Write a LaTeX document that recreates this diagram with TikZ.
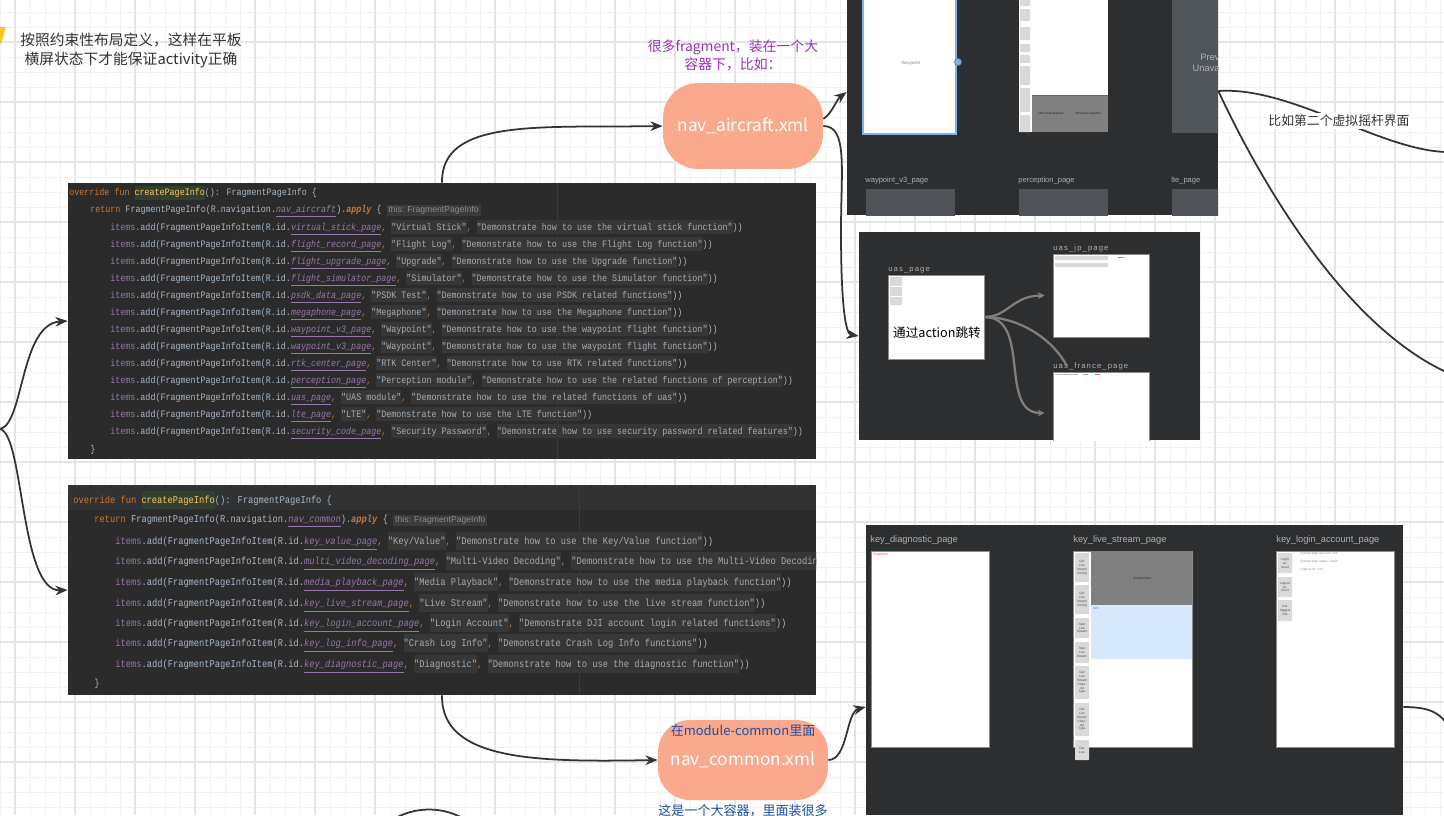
\documentclass[tikz,border=0pt]{standalone}
\usepackage{fontspec}
\setmainfont{Noto Sans CJK SC}
\setsansfont{Liberation Sans}
\newfontfamily\codefont[FakeStretch=0.85]{Liberation Mono}
\usetikzlibrary{positioning,arrows.meta,fit,calc}
\definecolor{ink}{HTML}{333333}
\definecolor{gridmin}{HTML}{F1F1F1}
\definecolor{gridmaj}{HTML}{E5E5E5}
\definecolor{salmon}{HTML}{FBA98C}
\definecolor{codebg}{HTML}{2B2B2B}
\definecolor{hdrbg}{HTML}{313233}
\definecolor{codefg}{HTML}{A9B7C6}
\definecolor{kwcol}{HTML}{CC7832}
\definecolor{fncol}{HTML}{FFC66D}
\definecolor{fnbg}{HTML}{33402F}
\definecolor{idcol}{HTML}{9876AA}
\definecolor{strbg}{HTML}{373737}
\definecolor{strfg}{HTML}{A5ADB4}
\definecolor{hintbg}{HTML}{3B3B3B}
\definecolor{hintfg}{HTML}{8C8C8C}
\definecolor{panelbg}{HTML}{2D2E30}
\definecolor{plabel}{HTML}{B0B0B0}
\definecolor{pgray}{HTML}{4F5357}
\definecolor{prevgray}{HTML}{50555A}
\definecolor{purp}{HTML}{9B30B8}
\definecolor{navblue}{HTML}{1F4E9E}
\definecolor{selblue}{HTML}{7FB2E5}
\definecolor{flowgray}{HTML}{7E7E7E}
\definecolor{lightblue}{HTML}{D6E8FC}
\definecolor{stickyyel}{HTML}{FFC425}
\tikzset{
  panel/.style={fill=panelbg,draw=none,inner sep=0pt},
  codebox/.style={fill=codebg,draw=none,inner sep=0pt},
  codeln/.style={anchor=west,inner sep=0pt,text=codefg,font=\codefont\fontsize{5.6}{7.8}\selectfont},
  codelnb/.style={codeln,font=\codefont\fontsize{5.85}{10}\selectfont},
  navnode/.style={fill=salmon,draw=none,rounded corners=0.7cm,inner sep=0pt,text=white,text height=7pt,text depth=1pt,font=\fontsize{9.8}{12}\selectfont},
  pagebox/.style={fill=white,draw=black!45,line width=0.4pt,inner sep=0pt},
  pglabel/.style={anchor=west,inner sep=0pt,text=plabel,font=\sffamily\fontsize{4.3}{5}\selectfont},
  uaslbl/.style={pglabel,font=\sffamily\fontsize{4.4}{5}\selectfont\addfontfeature{LetterSpace=14}},
  tinytxt/.style={inner sep=0pt,font=\sffamily\fontsize{1.8}{2.2}\selectfont,text=black!70},
  btn/.style={fill=black!15,draw=none,rounded corners=0.4pt},
  note/.style={align=center,text=ink,inner sep=0pt,font=\fontsize{8.4}{10.8}\selectfont},
  conn/.style={-{Stealth[length=7pt,width=5.5pt]},line width=1pt,color=ink},
  flow/.style={-{Stealth[length=4pt,width=4pt]},line width=1.3pt,color=flowgray},
}
\newcommand{\kw}[1]{\textcolor{kwcol}{#1}}
\newcommand{\fnm}[1]{{\fboxsep=0pt\colorbox{fnbg}{\strut\textcolor{fncol}{#1}}}}
\newcommand{\idr}[1]{\textcolor{idcol}{\underline{\textit{#1}}}}
\newcommand{\itm}{\textcolor{idcol}{items}}
\newcommand{\strg}[1]{{\fboxsep=0pt\colorbox{strbg}{\strut\textcolor{strfg}{#1}}}}
\newcommand{\cmm}{\textcolor{kwcol}{,}}
\newcommand{\hnt}[1]{{\fboxsep=1pt\colorbox{hintbg}{\sffamily\fontsize{4.9}{5.5}\selectfont\textcolor{hintfg}{#1}}}}
\begin{document}
\begin{tikzpicture}[x=0.02cm,y=-0.02cm]
  \useasboundingbox (0,0) rectangle (1444,815);
  \clip (0,0) rectangle (1444,815);
  \fill[white] (0,0) rectangle (1444,815);
  % grid
  \foreach \gx in {0,15,...,1440} \draw[gridmin,line width=0.3pt] (\gx,0) -- (\gx,815);
  \foreach \gy in {12,27,...,807} \draw[gridmin,line width=0.3pt] (0,\gy) -- (1444,\gy);
  \foreach \gx in {15,75,...,1395} \draw[gridmaj,line width=0.6pt] (\gx,0) -- (\gx,815);
  \foreach \gy in {42,102,...,762} \draw[gridmaj,line width=0.6pt] (0,\gy) -- (1444,\gy);

  \fill[stickyyel] (0,27) -- (6,27) -- (1,44) -- (0,44) -- cycle;
  \node[note] (tabletnote) at (131,50) {按照约束性布局定义，这样在平板\\横屏状态下才能保证activity正确};
  \node[note,text=purp,font=\fontsize{7.9}{10.2}\selectfont] (fragnote) at (733,55) {很多fragment，装在一个大\\容器下，比如：};

  % code, aircraft
  \node[codebox,fit={(68,183) (816,459)}] (code1) {};
  \draw[hintbg,line width=0.4pt] (557,183) -- (557,459);
  \node[codeln] (c1head) at (69,193) {\kw{override fun} \fnm{createPageInfo}(): FragmentPageInfo \{};
  \node[codeln] (c1ret) at (90,211) {\kw{return} FragmentPageInfo(R.navigation.\idr{nav\_aircraft}).\kw{\textbf{\textit{apply}}} \{ \hnt{this: FragmentPageInfo}};
  \foreach \i/\yy/\pid/\ttl/\desc in {
    1/228/virtual\_stick\_page/Virtual Stick/Demonstrate how to use the virtual stick function,
    2/245/flight\_record\_page/Flight Log/Demonstrate how to use the Flight Log function,
    3/262/flight\_upgrade\_page/Upgrade/Demonstrate how to use the Upgrade function,
    4/279/flight\_simulator\_page/Simulator/Demonstrate how to use the Simulator function,
    5/296/psdk\_data\_page/PSDK Test/Demonstrate how to use PSDK related functions,
    6/313/megaphone\_page/Megaphone/Demonstrate how to use the Megaphone function,
    7/330/waypoint\_v3\_page/Waypoint/Demonstrate how to use the waypoint flight function,
    8/347/waypoint\_v3\_page/Waypoint/Demonstrate how to use the waypoint flight function,
    9/364/rtk\_center\_page/RTK Center/Demonstrate how to use RTK related functions,
    10/381/perception\_page/Perception module/Demonstrate how to use the related functions of perception,
    11/398/uas\_page/UAS module/Demonstrate how to use the related functions of uas,
    12/415/lte\_page/LTE/Demonstrate how to use the LTE function,
    13/432/security\_code\_page/Security Password/Demonstrate how to use security password related features}
    \node[codeln] (c1l\i) at (110,\yy) {\itm.add(FragmentPageInfoItem(R.id.\idr{\pid}\cmm\ \strg{"\ttl"}\cmm\ \strg{"\desc"}))};
  \node[codeln] (c1end) at (90,450) {\}};

  % code, common
  \node[codebox,fit={(68,485) (816,695)}] (code2) {};
  \fill[hdrbg] (68,485) rectangle (816,510);
  \draw[hintbg,line width=0.4pt] (579,485) -- (579,695);
  \begin{scope}
    \clip (68,485) rectangle (816,695);
    \node[codelnb] (c2head) at (73,500) {\kw{override fun} \fnm{createPageInfo}(): FragmentPageInfo \{};
    \node[codelnb] (c2ret) at (94,521) {\kw{return} FragmentPageInfo(R.navigation.\idr{nav\_common}).\kw{\textbf{\textit{apply}}} \{ \hnt{this: FragmentPageInfo}};
    \foreach \i/\yy/\pid/\ttl/\desc in {
      1/541/key\_value\_page/{Key/Value}/{Demonstrate how to use the Key/Value function},
      2/561/multi\_video\_decoding\_page/Multi-Video Decoding/Demonstrate how to use the Multi-Video Decoding function,
      3/582/media\_playback\_page/Media Playback/Demonstrate how to use the media playback function,
      4/603/key\_live\_stream\_page/Live Stream/Demonstrate how to use the live stream function,
      5/623/key\_login\_account\_page/Login Account/Demonstrate DJI account login related functions,
      6/643/key\_log\_info\_page/Crash Log Info/Demonstrate Crash Log Info functions,
      7/664/key\_diagnostic\_page/Diagnostic/Demonstrate how to use the diagnostic function}
      \node[codelnb] (c2l\i) at (115,\yy) {\itm.add(FragmentPageInfoItem(R.id.\idr{\pid}\cmm\ \strg{"\ttl"}\cmm\ \strg{"\desc"}))};
    \node[codelnb] (c2end) at (94,684) {\}};
  \end{scope}

  \node[navnode,minimum width=3.2cm,minimum height=1.72cm] (aircraft) at (743,126) {nav\_aircraft.xml};
  \node[navnode,rounded corners=0.64cm,minimum width=3.4cm,minimum height=1.6cm] (common) at (743,760) {nav\_common.xml};
  \node[note,text=navblue,font=\fontsize{7.4}{9}\selectfont] (commontop) at (743,731) {在module-common里面};
  \node[note,text=navblue,font=\fontsize{7.4}{9}\selectfont] (commonbot) at (743,811) {这是一个大容器，里面装很多};

  % panels
  \node[panel,fit={(847,0) (1218,215)}] (toppanel) {};
  \node[panel,fit={(859,232) (1200,440)}] (uaspanel) {};
  \node[panel,fit={(866,525) (1403,815)}] (keypanel) {};

  \begin{scope}
    \clip (847,0) rectangle (1218,215);
    \node[pagebox,draw=selblue,line width=0.8pt,fit={(863,-10) (956,134)}] (wppage) {};
    \node[tinytxt,font=\sffamily\fontsize{2.6}{3}\selectfont,text=black!45] (wptext) at (911,63) {Waypoint};
    \node[circle,fill=selblue,draw=selblue!70!black,line width=0.4pt,inner sep=0pt,minimum size=0.14cm] (wphandle) at (958,62) {};
    \node[pagebox,draw=none,fit={(1019,-10) (1108,132)}] (percpage) {};
    \foreach \ya/\yb in {-6/6,9/21,27/40,44/52,55/63,66/85,88/112,115/132}
      \fill[btn] (1020,\ya) rectangle (1030,\yb);
    \fill[black!50] (1032,95) rectangle (1108,132);
    \draw[black!60,line width=0.4pt] (1032,95) -- (1108,95);
    \node[tinytxt,text=black!85] (joy1) at (1051,114) {OnScreenJoystick};
    \node[tinytxt,text=black!85] (joy2) at (1088,114) {OnScreenJoystick};
    \fill[prevgray] (1172,-10) rectangle (1230,133);
    \node[align=center,inner sep=0pt,text=black!30,font=\sffamily\fontsize{5.3}{6.4}\selectfont] (prevtxt) at (1217,63) {Preview\\Unavailable};
    \node[pglabel] (wplabel) at (865,181) {waypoint\_v3\_page};
    \node[pglabel] (perclabel) at (1018,181) {perception\_page};
    \node[pglabel] (ltelabel) at (1171,181) {lte\_page};
    \fill[pgray] (866,189) rectangle (955,220);
    \fill[pgray] (1019,189) rectangle (1108,220);
    \fill[pgray] (1172,189) rectangle (1230,220);
  \end{scope}

  \begin{scope}
    \clip (859,232) rectangle (1200,440);
    \node[uaslbl] (uaslabel) at (888,270) {uas\_page};
    \node[pagebox,fit={(888,275) (984,359)}] (uasbox) {};
    \foreach \ya/\yb in {277/286,287/296,297/305}
      \fill[btn] (890,\ya) rectangle (902,\yb);
    \node[uaslbl] (jplabel) at (1053,248) {uas\_jp\_page};
    \node[pagebox,fit={(1053,254) (1149,337)}] (jpbox) {};
    \fill[btn] (1055,256) rectangle (1108,260);
    \fill[btn] (1055,263) rectangle (1108,267);
    \fill[red!60] (1118,257) rectangle (1124,258);
    \node[uaslbl] (frlabel) at (1053,366) {uas\_france\_page};
    \node[pagebox,fit={(1053,372) (1149,460)}] (frbox) {};
    \fill[black!25] (1055,374) rectangle (1078,375);
    \fill[blue!40] (1083,374) rectangle (1088,375);
    \fill[red!60] (1095,374) rectangle (1100,375);
    \node[note,text=black,font=\fontsize{7.2}{9}\selectfont] (actiontxt) at (937,333) {通过action跳转};
    \draw[flow] (uasbox.east) .. controls (1008,317) and (1012,296) .. ([xshift=-0.16cm]jpbox.west);
    \draw[flow] (uasbox.east) .. controls (1032,317) and (998,413) .. ([xshift=-0.16cm,yshift=0.06cm]frbox.west);
    \draw[flow,-] (uasbox.east) .. controls (1015,317) and (1050,335) .. ([xshift=0.28cm]frlabel.west);
  \end{scope}

  \begin{scope}
    \clip (866,525) rectangle (1403,815);
    \node[pglabel,font=\sffamily\fontsize{5.3}{6}\selectfont] (diaglabel) at (870,540) {key\_diagnostic\_page};
    \node[pagebox,fit={(871,551) (989,747)}] (diagbox) {};
    \node[tinytxt,anchor=north west,text=red!70] (diagtxt) at (873,553) {Diagnostic};
    \node[pglabel,font=\sffamily\fontsize{5.3}{6}\selectfont] (livelabel) at (1073,540) {key\_live\_stream\_page};
    \node[pagebox,fit={(1073,551) (1192,747)}] (livebox) {};
    \fill[black!50] (1091,551) rectangle (1192,605);
    \node[tinytxt,text=black!85] (surftxt) at (1142,578) {SurfaceView};
    \fill[lightblue] (1091,605) rectangle (1192,659);
    \node[tinytxt,anchor=north west,text=blue!60] (natxt) at (1093,607) {N/A};
    \foreach \i/\ya/\yb/\bt in {1/553/582/Get Live Stream Config,2/585/614/Get Live Stream Config,3/618/638/Start Live Stream,4/642/663/Stop Live Stream,5/666/699/Get Live Stream Channel Type,6/703/736/Get Live Stream Channel Type,7/740/760/Get Live}{
      \fill[btn] (1075,\ya) rectangle (1089,\yb);
      \node[tinytxt,align=center,text width=0.22cm] (livebtn\i) at (1082,{(\ya+\yb)/2}) {\bt};
    }
    \node[pglabel,font=\sffamily\fontsize{5.3}{6}\selectfont] (loginlabel) at (1276,540) {key\_login\_account\_page};
    \node[pagebox,fit={(1276,551) (1394,747)}] (loginbox) {};
    \foreach \i/\ya/\yb/\bt in {1/553/573/Login account,2/577/597/Logout account,3/600/621/Get logged info}{
      \fill[btn] (1278,\ya) rectangle (1292,\yb);
      \node[tinytxt,align=center,text width=0.22cm] (loginbtn\i) at (1285,{(\ya+\yb)/2}) {\bt};
    }
    \node[tinytxt,anchor=west,text=black!45] (logt1) at (1300,554) {Current login account: null};
    \node[tinytxt,anchor=west,text=black!45] (logt2) at (1300,562) {Current login status: Login};
    \node[tinytxt,anchor=west,text=black!45] (logt3) at (1300,570) {Login error: null};
  \end{scope}

  % connectors
  \coordinate (leftend) at (0,429);
  \coordinate (rightA) at (1446,152);
  \coordinate (rightB) at (1446,372);
  \coordinate (rightC) at (1448,726);
  \coordinate (arcA) at (392,820);
  \coordinate (arcB) at (466,820);
  \draw[conn] (leftend) .. controls (24,424) and (20,324) .. (code1.west);
  \draw[conn] (leftend) .. controls (24,434) and (20,592) .. (code2.west);
  \draw[conn] (code1.north) .. controls (441,118) and (540,128) .. (aircraft.west);
  \draw[conn] ([yshift=0.14cm]aircraft.east) .. controls (833,112) and (836,100) .. ([yshift=0.31cm]toppanel.west);
  \draw[conn] (aircraft.east) .. controls (848,126) and (841,170) .. (841,230) .. controls (841,310) and (846,334) .. (uaspanel.west);
  \draw[conn] (code2.south) .. controls (441,762) and (540,762) .. (common.west);
  \draw[conn] (common.east) .. controls (848,760) and (846,712) .. ([yshift=-0.74cm]keypanel.west);
  \draw[conn,-] ([yshift=0.33cm]toppanel.east) .. controls (1290,86) and (1380,150) .. (rightA);
  \draw[conn,-] ([yshift=0.33cm]toppanel.east) .. controls (1262,185) and (1345,325) .. (rightB);
  \draw[conn,-] ([yshift=-0.74cm]keypanel.east) .. controls (1428,707) and (1440,712) .. (rightC);
  \draw[conn,-] (arcA) .. controls (415,806) and (443,806) .. (arcB);
  \node[note,fill=white,inner sep=1pt,font=\fontsize{7.3}{9}\selectfont] (joylabel) at (1339,121) {比如第二个虚拟摇杆界面};
\end{tikzpicture}
\end{document}
